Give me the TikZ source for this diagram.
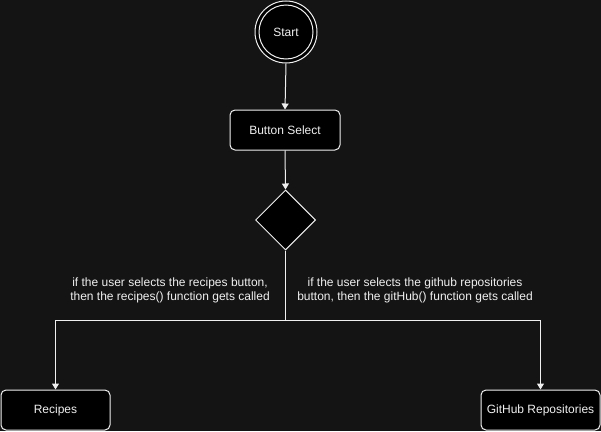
\documentclass[tikz,border=0pt]{standalone}
\usepackage{fontspec}
\setmainfont{Liberation Sans}
\usetikzlibrary{shapes.geometric,arrows.meta}
\definecolor{bg}{RGB}{20,20,20}
\definecolor{ln}{RGB}{240,240,240}
\begin{document}
\begin{tikzpicture}[x=1pt,y=-1pt,
  every node/.style={font=\fontsize{12}{14}\selectfont, text=ln},
  box/.style={draw=ln, fill=black, rounded corners=5pt, line width=1pt, inner sep=0pt},
  conn/.style={draw=ln, line width=1pt, -{Triangle[width=7pt,length=6pt]}},
  plain/.style={draw=ln, line width=1pt},
  lbl/.style={align=center, inner sep=0pt, font=\fontsize{12}{14}\selectfont}]
\fill[bg] (0,0) rectangle (601,431);
\useasboundingbox (0,0) rectangle (601,431);
% start
\node[circle, draw=ln, fill=black, line width=1pt, minimum size=62pt, inner sep=0pt] (startouter) at (286,32) {};
\node[circle, draw=ln, line width=1pt, minimum size=54pt, inner sep=0pt] (start) at (286,32) {Start};
\node[box, minimum width=110pt, minimum height=40pt] (btn) at (285,130) {Button Select};
\node[diamond, draw=ln, fill=black, line width=1pt, minimum width=60pt, minimum height=60pt, inner sep=0pt] (dec) at (285.5,220) {};
\node[box, minimum width=109pt, minimum height=40pt] (rec) at (55.5,410) {Recipes};
\node[box, minimum width=119pt, minimum height=40pt] (gh) at (540.5,410) {GitHub Repositories};
\node[lbl] (l1) at (170,290.5) {if the user selects the recipes button,\\then the recipes() function gets called};
\node[lbl] (l2) at (415,290.5) {if the user selects the github repositories\\button, then the gitHub() function gets called};
\coordinate (split) at (285.5,320);
\draw[conn] (startouter.south) -- (btn.north);
\draw[conn] (btn.south) -- (dec.north);
\draw[plain] (dec.south) -- (split);
\draw[conn] (split) -| (rec.north);
\draw[conn] (split) -| (gh.north);
\end{tikzpicture}
\end{document}
